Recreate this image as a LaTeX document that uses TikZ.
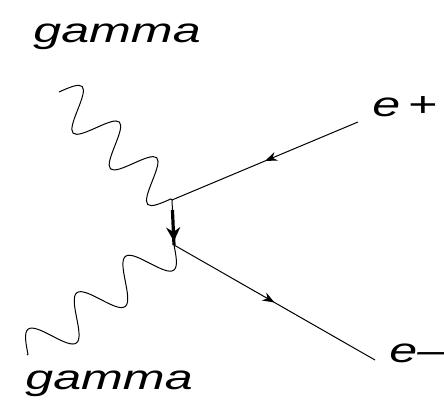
\documentclass[tikz,border=0pt]{standalone}
\usepackage{fontspec}
\setmainfont{Liberation Sans}
\usepackage{graphicx}
\usetikzlibrary{arrows.meta, decorations.markings}
\newcommand{\widelbl}[1]{\scalebox{1.45}[1]{\itshape #1}}
% full sine periods, no straight tail
\pgfdeclaredecoration{photonwave}{wave}{
  \state{wave}[width=\pgfdecorationsegmentlength]{
    \pgfpathsine{\pgfpoint{0.25\pgfdecorationsegmentlength}{\pgfdecorationsegmentamplitude}}
    \pgfpathcosine{\pgfpoint{0.25\pgfdecorationsegmentlength}{-\pgfdecorationsegmentamplitude}}
    \pgfpathsine{\pgfpoint{0.25\pgfdecorationsegmentlength}{-\pgfdecorationsegmentamplitude}}
    \pgfpathcosine{\pgfpoint{0.25\pgfdecorationsegmentlength}{\pgfdecorationsegmentamplitude}}
  }
  \state{final}{\pgfpathlineto{\pgfpointdecoratedpathlast}}
}

\begin{document}
\begin{tikzpicture}[x=0.5pt, y=0.5pt,
  every node/.style={font=\fontsize{17.3}{20}\selectfont, inner sep=0pt},
  fermion/.style={draw, line width=0.5pt, postaction={decorate},
    decoration={markings, mark=at position 0.5 with {\arrow{Stealth[length=6pt,width=4.5pt]}}}},
  photon/.style={draw, line width=0.5pt, decorate,
    decoration={photonwave, amplitude=10pt, segment length=#1}}]
  \useasboundingbox (0,0) rectangle (444,405);
  % vertices
  \coordinate (vtop) at (172,205);
  \coordinate (vbot) at (174,160);
  % free ends
  \coordinate (gin) at (59,313);
  \coordinate (gout) at (27,50);
  \coordinate (pin) at (358,283);
  \coordinate (eout) at (375,45);
  % labels
  \node[anchor=base west] (lgtop) at (33,362) {\widelbl{gamma}};
  \node[anchor=base west] (lgbot) at (25,15) {\widelbl{gamma}};
  \node[anchor=base west] (lpos) at (372,288) {\widelbl{e\kern2.5pt+}};
  \node[anchor=base west] (lele) at (389,42) {\widelbl{e\textendash}};
  % lines
  \draw[photon=25.8pt] (gin) -- (vtop);
  \draw[photon=30.4pt] (vbot) -- (gout);
  \draw[fermion] (pin) -- (vtop);
  \draw[fermion] (vbot) -- (eout);
  \draw[line width=0.5pt] (vtop) -- (vbot);
  \draw[line width=1.6pt, shorten <=5pt, postaction={decorate},
    decoration={markings, mark=at position 0.92 with {\arrow{Stealth[length=7pt,width=7pt]}}}] (vtop) -- (vbot);
\end{tikzpicture}
\end{document}
